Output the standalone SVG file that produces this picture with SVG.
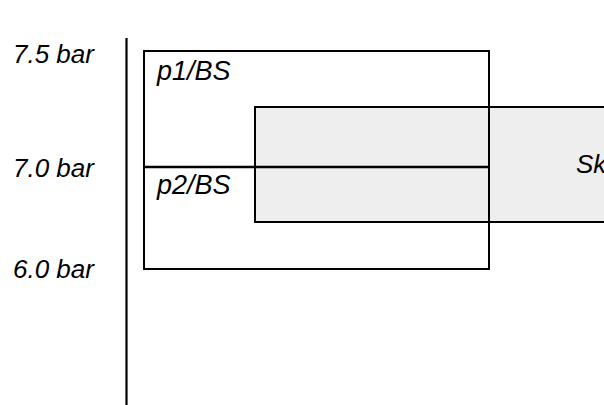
<svg xmlns="http://www.w3.org/2000/svg" width="604" height="405" viewBox="0 0 604 405">
<style>
text{font-family:"Liberation Sans",Arial,sans-serif;font-style:italic;font-size:26px;fill:#000}
.box{fill:none;stroke:#000;stroke-width:2}
.gray{fill:#eeeeee;stroke:#000;stroke-width:2}
</style>
<rect width="604" height="405" fill="#fff"/>
<g id="axis">
<line x1="126.5" y1="38" x2="126.5" y2="405" stroke="#000" stroke-width="2.2"/>
<text x="13" y="63">7.5 bar</text>
<text x="13" y="177">7.0 bar</text>
<text x="13" y="278">6.0 bar</text>
</g>
<g id="sk">
<rect class="gray" x="255" y="107" width="360" height="115"/>
<text x="576" y="173">Sk</text>
</g>
<g id="bs">
<rect class="box" x="144" y="51" width="345" height="218"/>
<line x1="144" y1="167" x2="489" y2="167" stroke="#000" stroke-width="2.5"/>
<text x="157" y="80" style="font-size:27px">p1/BS</text>
<text x="157" y="194" style="font-size:27px">p2/BS</text>
</g>
</svg>
